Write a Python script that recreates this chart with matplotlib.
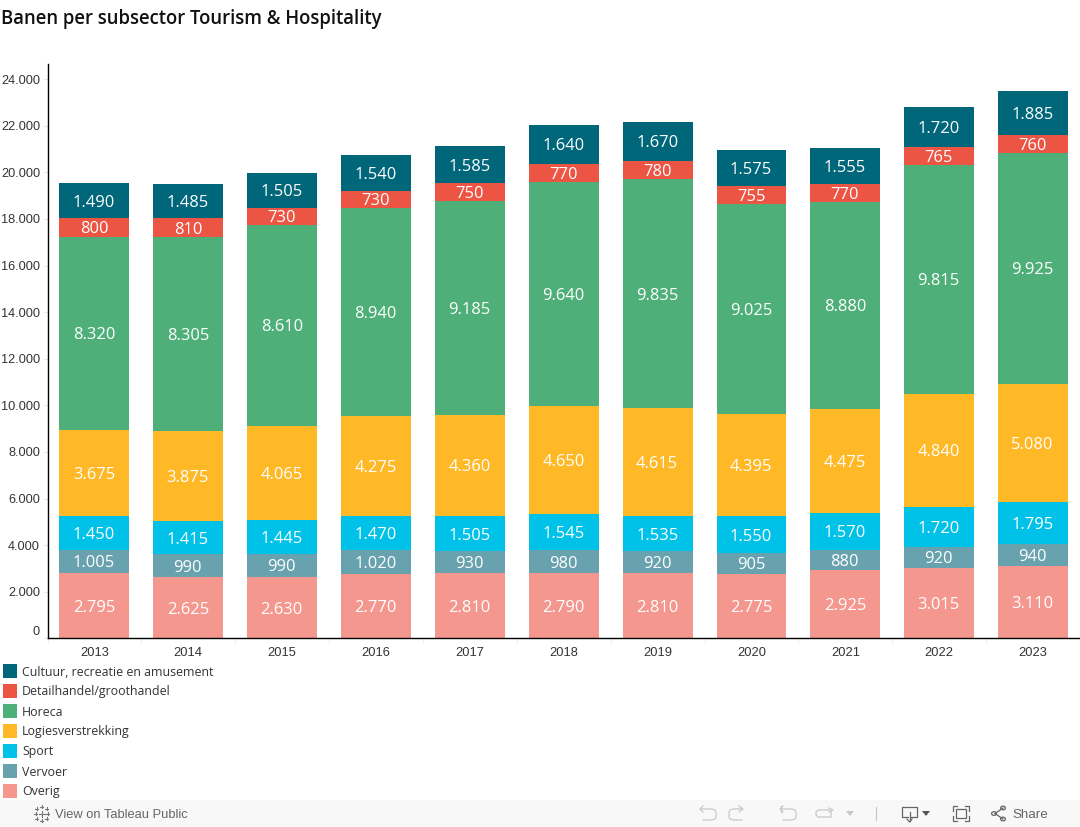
import matplotlib
matplotlib.use("Agg")
import matplotlib.pyplot as plt
from matplotlib.patches import Rectangle
from matplotlib.lines import Line2D

years = [2013, 2014, 2015, 2016, 2017, 2018, 2019, 2020, 2021, 2022, 2023]

overig = [2795, 2625, 2630, 2770, 2810, 2790, 2810, 2775, 2925, 3015, 3110]
vervoer = [1005, 990, 990, 1020, 930, 980, 920, 905, 880, 920, 940]
sport = [1450, 1415, 1445, 1470, 1505, 1545, 1535, 1550, 1570, 1720, 1795]
logies = [3675, 3875, 4065, 4275, 4360, 4650, 4615, 4395, 4475, 4840, 5080]
horeca = [8320, 8305, 8610, 8940, 9185, 9640, 9835, 9025, 8880, 9815, 9925]
detail = [800, 810, 730, 730, 750, 770, 780, 755, 770, 765, 760]
cultuur = [1490, 1485, 1505, 1540, 1585, 1640, 1670, 1575, 1555, 1720, 1885]

# bottom to top
series = [overig, vervoer, sport, logies, horeca, detail, cultuur]
colors = ["#f4978e", "#68a2af", "#00c2e8", "#ffb826", "#4eb078", "#ec5444", "#00667a"]
names = ["Overig", "Vervoer", "Sport", "Logiesverstrekking", "Horeca",
         "Detailhandel/groothandel", "Cultuur, recreatie en amusement"]
yticks = list(range(0, 24001, 2000))


def nl(v):
    return f"{v:,}".replace(",", ".")


W, H = 1080, 827
fig = plt.figure(figsize=(W / 100, H / 100), dpi=100)
fig.patch.set_facecolor("white")

ax = fig.add_axes([47.5 / W, 1 - 638.3 / H, (W - 47.5) / W, (638.3 - 64) / H])
x = list(range(len(years)))
bottom = [0] * len(years)
for vals, col in zip(series, colors):
    ax.bar(x, vals, width=0.745, bottom=bottom, color=col, linewidth=0)
    for i, v in enumerate(vals):
        ax.text(i - 0.005, bottom[i] + v / 2, nl(v), color="white", ha="center", va="center_baseline",
                fontsize=11.9, family="Open Sans", fontweight="medium")
    bottom = [b + v for b, v in zip(bottom, vals)]

ax.set_xlim(-0.495, 10.5)
ax.set_ylim(0, 24650)
for s in ["top", "right"]:
    ax.spines[s].set_visible(False)
ax.spines["left"].set_linewidth(1.0)
ax.spines["bottom"].set_linewidth(1.0)
ax.spines["left"].set_color("black")
ax.spines["bottom"].set_color("black")

ax.set_xticks(x)
ax.set_xticklabels([str(y) for y in years], family="Liberation Sans", fontsize=9.3, color="#333333")
ax.set_yticks(yticks)
ax.set_yticklabels([nl(v) for v in yticks], family="Liberation Sans", fontsize=9.2, color="#333333")
ax.tick_params(axis="x", length=0, pad=6.5)
ax.tick_params(axis="y", length=3, color="#e6e6e6", width=0.8, pad=2.4)
ax.set_xticks([i - 0.5 for i in x] + [10.5], minor=True)
ax.tick_params(axis="x", which="minor", length=3.5, color="#ececec", width=0.8)
ax.get_yticklabels()[0].set_va("bottom")

fig.text(1 / W, 1 - 19 / H, "Banen per subsector Tourism & Hospitality", fontsize=13.35,
         family="Open Sans", fontweight="semibold", color="#111111", va="center", ha="left")

# legend, top entry first
for k, (name, col) in enumerate(zip(names[::-1], colors[::-1])):
    yc = 670.5 + k * 20
    fig.add_artist(Rectangle((3 / W, 1 - (yc + 7) / H), 14 / W, 14 / H, color=col, lw=0))
    fig.text(22 / W, 1 - (yc + 1.5) / H, name, fontsize=8.9, family="Open Sans", color="#333333",
             va="center", ha="left")

# toolbar
fig.add_artist(Rectangle((0, 0), 1, 27 / H, color="#f8f8f8", lw=0))
fig.text(55 / W, 1 - 815 / H, "View on Tableau Public", fontsize=9.3, family="Liberation Sans",
         color="#666666", va="center", ha="left")
fig.text(1012 / W, 1 - 815 / H, "Share", fontsize=9.6, family="Liberation Sans",
         color="#666666", va="center", ha="left")


def seg(xs, ys, col="#c8c8c8", lw=0.9):
    fig.add_artist(Line2D([a / W for a in xs], [1 - b / H for b in ys], color=col, lw=lw))


# tableau logo
for cx, cy, r in [(41.5, 813.5, 3), (35.5, 813.5, 1.5), (47.5, 813.5, 1.5), (41.5, 806.5, 1.5), (41.5, 820.5, 1.5),
                  (36.5, 808.5, 1.5), (46.5, 808.5, 1.5), (36.5, 818.5, 1.5), (46.5, 818.5, 1.5)]:
    seg([cx - r, cx + r], [cy, cy], "#777777", 0.8)
    seg([cx, cx], [cy - r, cy + r], "#777777", 0.8)

# undo, redo, revert, refresh
seg([701, 712, 715, 716, 716, 715, 712, 703], [809, 809, 810, 812, 817, 819, 820, 820])
seg([703, 700, 703], [806, 809, 812])
seg([742, 733, 730, 729, 729, 730, 733, 742], [809, 809, 810, 812, 817, 819, 820, 820])
seg([739, 743, 739], [806, 809, 812])
seg([781, 792, 795, 796, 796, 795, 792, 783], [809, 809, 810, 812, 817, 819, 820, 820])
seg([783, 780, 783], [806, 809, 812])
seg([781, 781], [806, 812])
seg([830, 818, 816, 816, 818, 831, 831], [810, 810, 812, 815, 817, 817, 812])
seg([829, 833, 829], [808, 810, 812])
seg([875.5, 875.5], [807, 820])
# dropdown arrows
fig.add_artist(plt.Polygon([(846 / W, 1 - 811 / H), (854 / W, 1 - 811 / H), (850 / W, 1 - 816 / H)],
                           color="#c8c8c8", lw=0))
fig.add_artist(plt.Polygon([(922 / W, 1 - 811 / H), (930 / W, 1 - 811 / H), (926 / W, 1 - 816 / H)],
                           color="#555555", lw=0))
# download
seg([908, 902, 902, 917, 917, 911], [817, 817, 807, 807, 817, 817], "#666666")
seg([909.5, 909.5], [812, 821], "#666666")
seg([907, 909.5, 912], [819, 822, 819], "#666666")
# fullscreen
seg([953, 953, 957], [811, 806, 806], "#666666")
seg([965, 969, 969], [806, 806, 811], "#666666")
seg([953, 953, 957], [816, 821, 821], "#666666")
seg([965, 969, 969], [821, 821, 816], "#666666")
fig.add_artist(Rectangle((956 / W, 1 - 818 / H), 10 / W, 9 / H, fill=False, ec="#666666", lw=0.9))
# share
seg([995, 1003], [813.5, 808], "#666666")
seg([995, 1003], [813.5, 819], "#666666")
for cx, cy in [(994, 813.5), (1003, 808), (1003, 819)]:
    fig.add_artist(plt.Circle((cx / W, 1 - cy / H), 2.4 / W, fc="#f8f8f8", ec="#666666", lw=0.9))

fig.savefig("out.png", dpi=100)
